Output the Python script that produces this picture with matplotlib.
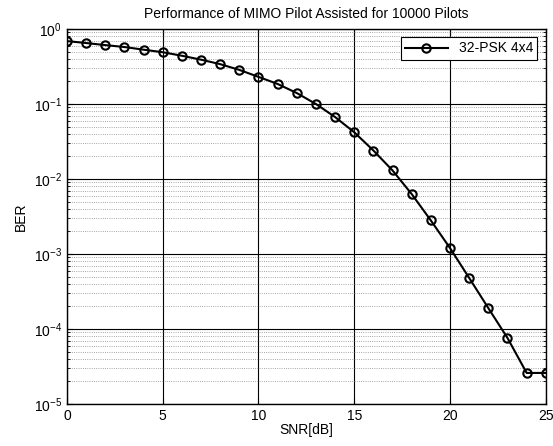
import numpy as np
import matplotlib.pyplot as plt
from matplotlib.ticker import LogLocator, NullFormatter

# SNR (dB) vs BER
snr = list(range(0, 26))
ber = [0.69, 0.65, 0.61, 0.575, 0.53, 0.49, 0.44, 0.39, 0.34, 0.285,
       0.23, 0.185, 0.14, 0.10, 0.067, 0.042, 0.024, 0.013, 0.0063, 0.0028,
       0.0012, 0.00048, 0.00019, 7.6e-5, 2.6e-5, 2.6e-5]

plt.rcParams['font.family'] = ['Liberation Sans', 'DejaVu Sans']

fig = plt.figure(figsize=(5.53, 4.46), dpi=100)
ax = fig.add_axes([0.121, 0.094, 0.866, 0.841])

ax.semilogy(snr, ber, '-o', color='black', linewidth=1.5, markersize=6,
            markerfacecolor='none', markeredgewidth=1.5, label='32-PSK 4x4')

ax.set_xlim(0, 25)
ax.set_ylim(1e-5, 1)
ax.set_xticks([0, 5, 10, 15, 20, 25])
ax.yaxis.set_major_locator(LogLocator(base=10, numticks=10))
ax.yaxis.set_minor_locator(LogLocator(base=10, subs=np.arange(2, 10), numticks=20))
ax.yaxis.set_minor_formatter(NullFormatter())

ax.grid(True, which='major', color='black', linewidth=0.8, linestyle='-')
ax.grid(True, which='minor', axis='y', color='#888888', linewidth=0.6, linestyle=':')
ax.tick_params(which='both', direction='in', top=True, right=True, labelsize=10)
ax.tick_params(which='major', length=4)
ax.tick_params(which='minor', length=2)
for s in ax.spines.values():
    s.set_linewidth(1.0)

ax.set_xlabel('SNR[dB]', fontsize=10, labelpad=0)
ax.set_ylabel('BER', fontsize=10)
ax.set_title('Performance of MIMO Pilot Assisted for 10000 Pilots', fontsize=10, pad=8)

leg = ax.legend(loc='upper right', fontsize=10, fancybox=False, framealpha=1,
                edgecolor='black', handlelength=3.1, borderpad=0.3,
                borderaxespad=0.6)
leg.get_frame().set_linewidth(0.8)

plt.savefig('out.png', dpi=100)
